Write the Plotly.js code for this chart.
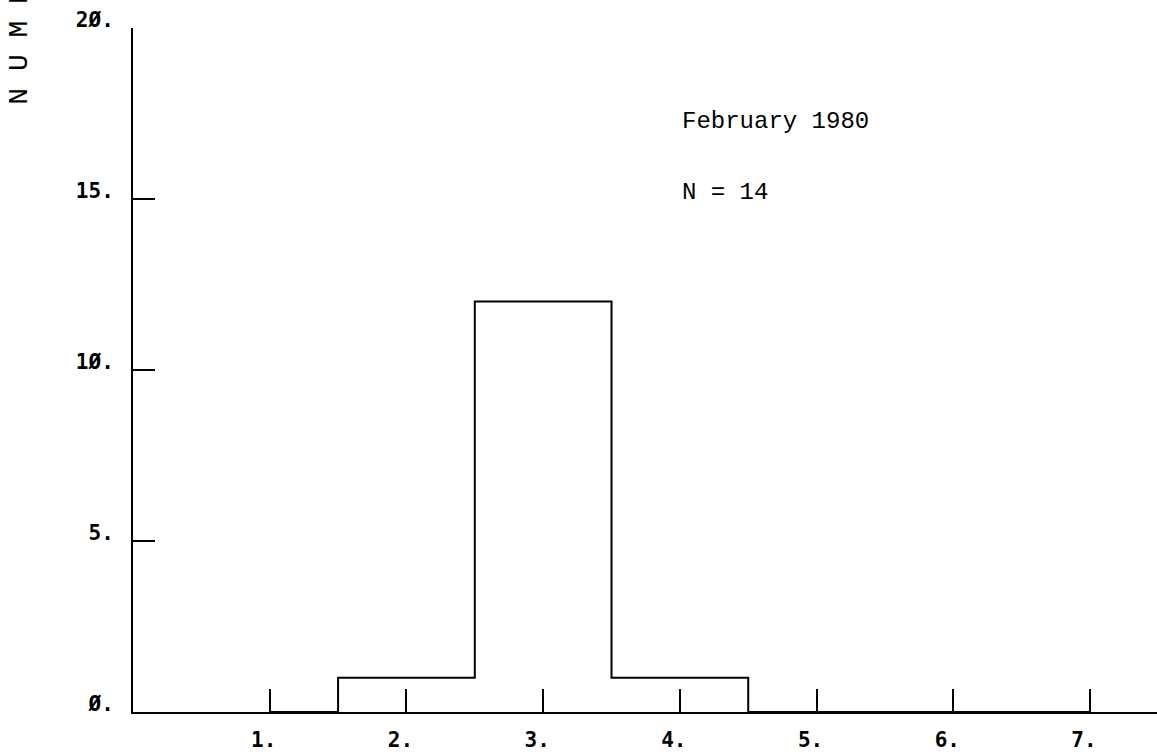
<!DOCTYPE html>
<html>
<head>
<meta charset="utf-8">
<script src="https://cdn.plot.ly/plotly-3.0.1.min.js"></script>
<style>html,body{margin:0;padding:0;background:#fff;}#chart{width:1157px;height:754px;}</style>
</head>
<body>
<div id="chart"></div>
<script>
// Data
const categories = [1, 2, 3, 4, 5, 6, 7];
const counts = [0, 1, 12, 1, 0, 0, 0];
const xTickVals = [1, 2, 3, 4, 5, 6, 7];
const xTickText = ["1.", "2.", "3.", "4.", "5.", "6.", "7."];
const yTickVals = [0, 5, 10, 15, 20];
const yTickText = ["Ø.", "5.", "1Ø.", "15.", "2Ø."];
const annotationLines = ["February 1980", "N = 14"];
const yTitle = "N U M B E R";

const trace = {
  x: categories,
  y: counts,
  type: "scatter",
  mode: "lines",
  line: {shape: "hvh", color: "#000", width: 2},
  hoverinfo: "skip",
  cliponaxis: false
};

const tickFont = {family: "DejaVu Sans Mono", size: 21, color: "#000", weight: "bold"};
const annFont = {family: "Liberation Mono", size: 24, color: "#000"};

const layout = {
  width: 1157, height: 754,
  margin: {l: 133, r: 0, t: 28, b: 42, pad: 0},
  paper_bgcolor: "#fff", plot_bgcolor: "#fff",
  showlegend: false,
  xaxis: {
    range: [0, 7.49], showgrid: false, zeroline: false,
    showline: true, linecolor: "#000", linewidth: 2,
    ticks: "inside", ticklen: 23, tickwidth: 2, tickcolor: "#000",
    tickmode: "array", tickvals: xTickVals, ticktext: xTickText,
    tickfont: tickFont, ticklabelstandoff: 8, ticklabelshift: -6,
    fixedrange: true
  },
  yaxis: {
    range: [0, 20], showgrid: false, zeroline: false,
    showline: true, linecolor: "#000", linewidth: 2,
    ticks: "inside", ticklen: 22, tickwidth: 2, tickcolor: "#000",
    tickmode: "array", tickvals: yTickVals, ticktext: yTickText,
    tickfont: tickFont, ticklabelstandoff: 13, ticklabelshift: -8,
    fixedrange: true
  },
  annotations: [
    {x: 4.0, y: 17.28, xref: "x", yref: "y", xanchor: "left", yanchor: "middle",
     text: annotationLines[0], showarrow: false, font: annFont},
    {x: 4.0, y: 15.2, xref: "x", yref: "y", xanchor: "left", yanchor: "middle",
     text: annotationLines[1], showarrow: false, font: annFont},
    {x: -0.1108, y: 0.885, xref: "paper", yref: "paper", xanchor: "center", yanchor: "bottom",
     text: yTitle, textangle: -90, showarrow: false,
     font: {family: "Liberation Mono", size: 28, color: "#000"}}
  ]
};

Plotly.newPlot("chart", [trace], layout, {staticPlot: true, displayModeBar: false});
</script>
</body>
</html>
